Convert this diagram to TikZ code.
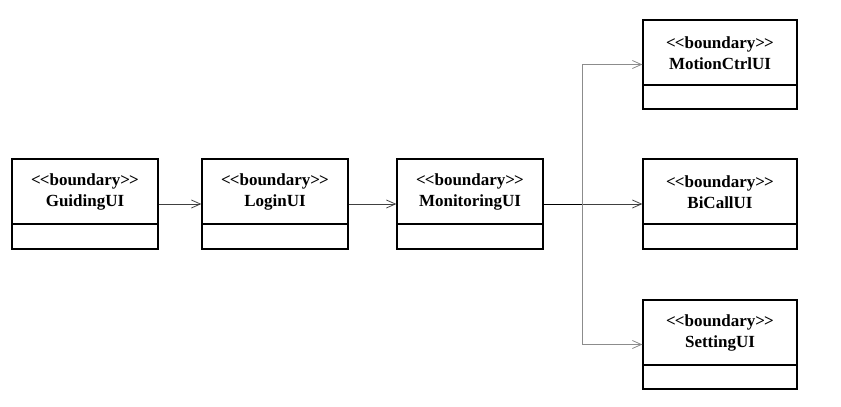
\documentclass[tikz,border=0pt]{standalone}
\usepackage{fontspec}
\setmainfont{Liberation Serif}
\usetikzlibrary{arrows.meta}
\tikzset{
  umlbox/.style={draw=black, line width=1.3pt, rectangle, inner sep=0pt},
  umltext/.style={align=center, font=\bfseries\fontsize{17}{21}\selectfont, inner sep=0pt},
  conn/.style={draw=black!75, line width=0.8pt, -{Straight Barb[length=9pt,width=8pt]}},
  stub/.style={draw=black, line width=0.8pt},
  branch/.style={draw=black!45, line width=0.8pt, -{Straight Barb[length=9pt,width=8pt]}}
}
\newcommand{\umlcls}[6]{% name, x, y, width, height, text
  \node[umlbox, minimum width=#4pt, minimum height=#5pt] (#1) at (#2,#3) {};
  \node[umltext] (#1-t) at ([yshift=-33.5pt]#1.north) {<\kern-1pt<boundary>\kern-1pt>\\#6};
  \draw[line width=1.3pt] ([yshift=-65.5pt]#1.north west) -- ([yshift=-65.5pt]#1.north east);
}
\begin{document}
\begin{tikzpicture}[x=1pt,y=-1pt]
\useasboundingbox (0,0) rectangle (841,407);
\umlcls{g}{85}{204}{146}{90}{GuidingUI}
\umlcls{l}{275}{204}{146}{90}{LoginUI}
\umlcls{m}{470}{204}{146}{90}{MonitoringUI}
\umlcls{mc}{720}{64.5}{154}{89}{MotionCtrlUI}
\umlcls{b}{720}{204}{154}{90}{BiCallUI}
\umlcls{s}{720}{344.5}{154}{89}{SettingUI}
\coordinate (j) at (582,204);
\draw[conn] (g.east) -- (l.west);
\draw[conn] (l.east) -- (m.west);
\draw[stub] (m.east) -- (j);
\draw[conn] (j) -- (b.west);
\draw[branch] (j) |- (mc.west);
\draw[branch] (j) |- (s.west);
\end{tikzpicture}
\end{document}
